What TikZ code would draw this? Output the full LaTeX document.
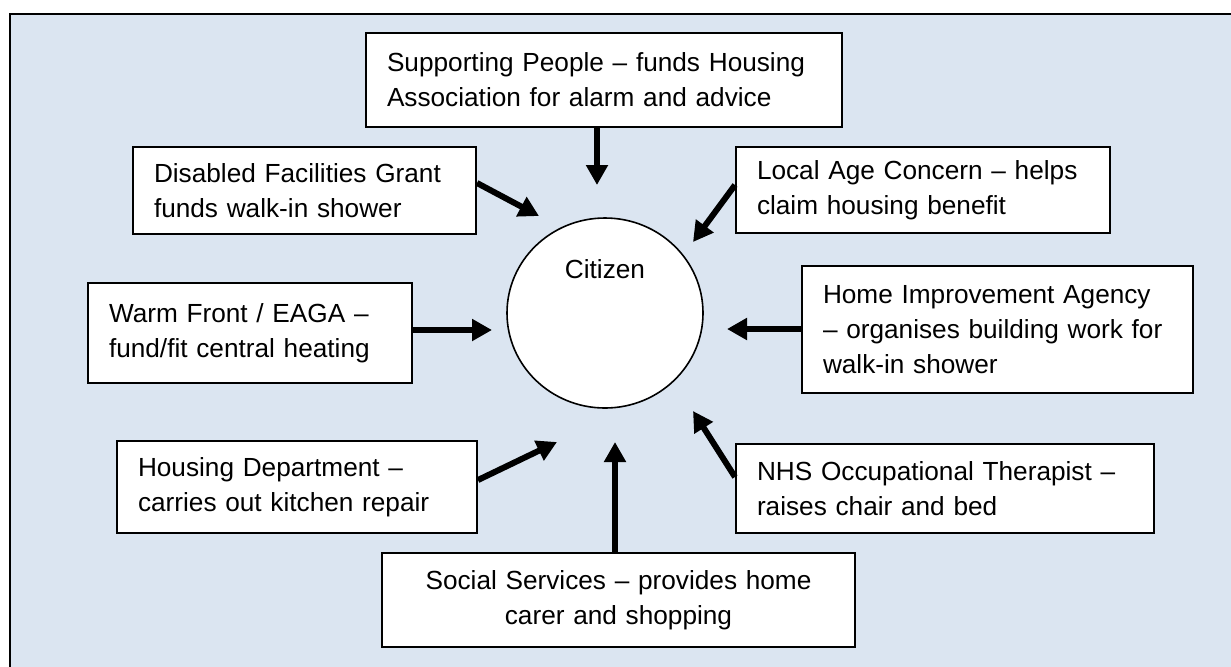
\documentclass[tikz,border=0pt]{standalone}
\usepackage{fontspec}
\setmainfont{Liberation Sans}
\usetikzlibrary{arrows.meta,shapes.geometric}
\definecolor{panel}{HTML}{DBE5F1}

\begin{document}
\begin{tikzpicture}[x=0.5pt,y=-0.5pt,
  agency/.style={draw, fill=white, line width=1pt, inner xsep=10.5pt, inner ysep=0pt,
    align=left, font=\fontsize{13.1}{17.5}\selectfont},
  feed/.style={line width=3pt, -{Triangle[length=10pt,width=10.5pt]}}]
  \useasboundingbox (0,0) rectangle (1231,666);
  \clip (0,0) rectangle (1231,666);
  % shaded panel, runs off the right and bottom edges
  \draw[line width=1pt, fill=panel] (10,14) rectangle (1260,700);

  % the citizen in the middle
  \node[ellipse, draw, fill=white, line width=0.8pt, inner sep=0pt,
    minimum width=98pt, minimum height=95pt] (citizen) at (605,313) {};
  \node[font=\fontsize{13.1}{17.5}\selectfont] (citizenname) at ([yshift=21.75pt]citizen.center) {Citizen};

  % the agencies round it
  \node[agency, text width=217pt, minimum height=47pt] (support) at (604,80)
    {Supporting People – funds Housing\\Association for alarm and advice};
  \node[agency, text width=150.5pt, minimum height=43.5pt] (dfg) at (304.5,190.5)
    {Disabled Facilities Grant\\funds walk-in shower};
  \node[agency, text width=166pt, minimum height=43pt] (ageconcern) at (923,190)
    {Local Age Concern – helps\\claim housing benefit};
  \node[agency, text width=141pt, minimum height=50pt] (warmfront) at (250,333)
    {Warm Front / EAGA –\\fund/fit central heating};
  \node[agency, text width=174.5pt, minimum height=63.5pt] (hia) at (997.5,329.5)
    {Home Improvement Agency\\– organises building work for\\walk-in shower};
  \node[agency, text width=159pt, minimum height=46pt] (housing) at (297,487)
    {Housing Department –\\carries out kitchen repair};
  \node[agency, text width=188pt, minimum height=44.5pt] (nhs) at (945,488.5)
    {NHS Occupational Therapist –\\raises chair and bed};
  \node[agency, align=center, text width=215.5pt, minimum height=47pt] (social) at (618.5,600)
    {Social Services – provides home\\carer and shopping};

  % arrow tips, just short of the circle
  \coordinate (tSupport) at (597,185);
  \coordinate (tDfg) at (539,216);
  \coordinate (tAge) at (693,242);
  \coordinate (tWarm) at (492,330);
  \coordinate (tHia) at (727,329);
  \coordinate (tHousing) at (557,442);
  \coordinate (tSocial) at (615,442);
  \coordinate (tNhs) at (693,411);

  \draw[feed] (support.south -| tSupport) -- (tSupport);
  \draw[feed] ([yshift=3.75pt]dfg.east) -- (tDfg);
  \draw[feed] ([yshift=2.5pt]ageconcern.west) -- (tAge);
  \draw[feed] (warmfront.east |- tWarm) -- (tWarm);
  \draw[feed] (hia.west |- tHia) -- (tHia);
  \draw[feed] ([yshift=3.5pt]housing.east) -- (tHousing);
  \draw[feed] (social.north -| tSocial) -- (tSocial);
  \draw[feed] ([yshift=5.75pt]nhs.west) -- (tNhs);
\end{tikzpicture}
\end{document}
